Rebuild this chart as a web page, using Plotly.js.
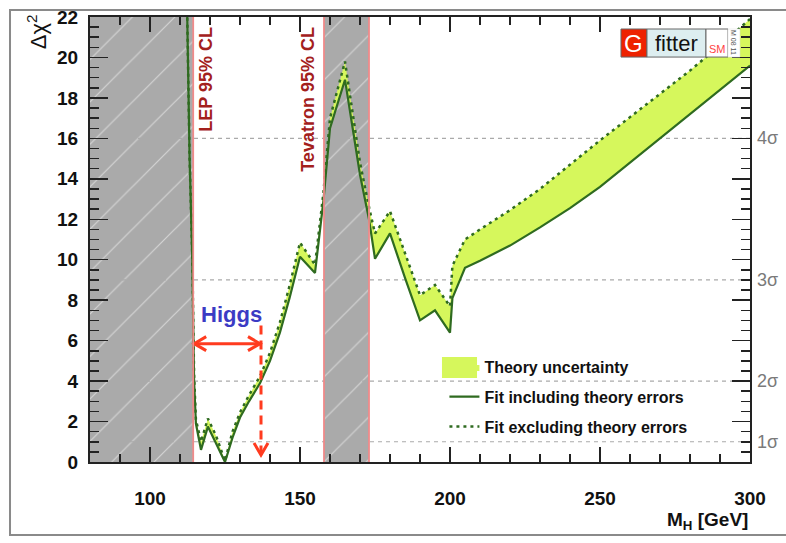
<!DOCTYPE html>
<html><head><meta charset="utf-8">
<script src="https://cdn.plot.ly/plotly-3.0.1.min.js"></script>
<style>html,body{margin:0;padding:0;background:#fff}#chart{width:786px;height:543px}</style>
</head><body><div id="chart"></div>
<script>
// ---- data ----
const mH = [112.3, 113.2, 114.1, 114.7, 115.3, 117, 119.3, 122, 125, 127.5, 130, 133, 136.7, 140, 143.3, 146.5, 150, 155, 157.8, 160, 165, 170, 173, 175, 180, 185, 190, 195, 200, 200.8, 205, 210, 220, 230, 240, 250, 260, 270, 280, 290, 300];
const chi2WithTheory = [23, 15, 10, 4, 1.9, 0.6, 1.75, 0.9, 0, 1.2, 2.2, 3.0, 3.9, 5.0, 6.4, 8.1, 10.15, 9.35, 12.9, 16.5, 18.9, 14.2, 12.0, 10.05, 11.3, 9.1, 7.0, 7.5, 6.4, 8.1, 9.6, 9.95, 10.7, 11.6, 12.55, 13.6, 14.8, 16.0, 17.2, 18.4, 19.6];
const chi2NoTheory = [23, 15, 10.2, 4.3, 2.1, 1.0, 2.15, 1.3, 0.05, 1.5, 2.45, 3.3, 4.25, 5.4, 6.9, 8.7, 10.85, 9.75, 13.3, 17.0, 19.8, 14.8, 12.6, 11.3, 12.4, 10.3, 8.25, 8.75, 7.7, 9.7, 11.0, 11.5, 12.45, 13.5, 14.7, 15.9, 17.05, 18.2, 19.35, 20.6, 21.9];
const lepExcl = [80, 114.4];
const tevExcl = [158, 173];
const higgsRange = [114.4, 137];
const higgsArrowLevel = 5.85;
const higgsDrop = [6.75, 0.35];
const sigmaLevels = [1, 2, 3, 4];
const sigmaLabels = ['1σ', '2σ', '3σ', '4σ'];
const xRange = [80, 300];
const yRange = [0, 22];
const xTickVals = [100, 150, 200, 250, 300];

// ---- styling ----
const GREEN = '#2f6b20', BAND = '#d6f75c', RED = '#f08a8a', ARROW = '#ff3b1f', AX = '#222';
const FONT = 'Liberation Sans, Arial, sans-serif';
const W = 786, H = 543, M = {l: 90, r: 36, t: 17, b: 81};
const xPerPx = (xRange[1] - xRange[0]) / (W - M.l - M.r), yPerPx = (yRange[1] - yRange[0]) / (H - M.t - M.b);

function regionTrace(r) {
  return {x: [r[0], r[1], r[1], r[0], r[0]], y: [yRange[0], yRange[0], yRange[1], yRange[1], yRange[0]],
    mode: 'lines', fill: 'toself', line: {width: 0}, fillcolor: '#aaaaaa',
    fillpattern: {shape: '/', bgcolor: '#aaaaaa', fgcolor: '#d4d4d4', size: 30, solidity: 0.04},
    showlegend: false, hoverinfo: 'skip'};
}
const traces = [regionTrace(lepExcl), regionTrace(tevExcl)];
sigmaLevels.forEach(s => traces.push({x: xRange, y: [s*s, s*s], mode: 'lines',
  line: {color: '#aaaaaa', width: 1.2, dash: '4px,4px'}, showlegend: false, hoverinfo: 'skip'}));
traces.push({x: mH, y: chi2WithTheory, mode: 'lines', line: {width: 0}, showlegend: false, hoverinfo: 'skip'});
traces.push({x: mH, y: chi2NoTheory, mode: 'lines', line: {width: 0}, fill: 'tonexty', fillcolor: BAND,
  name: 'Theory uncertainty', legendgroup: 'a'});
traces.push({x: mH, y: chi2WithTheory, mode: 'lines', line: {color: GREEN, width: 2.2},
  name: 'Fit including theory errors', legendgroup: 'b'});
traces.push({x: mH, y: chi2NoTheory, mode: 'lines', line: {color: GREEN, width: 2.5, dash: '3px,4px'},
  name: 'Fit excluding theory errors', legendgroup: 'c'});

// Higgs range arrows
const hx0 = higgsRange[0], hx1 = higgsRange[1], hy = higgsArrowLevel;
const ax = 13 * xPerPx, ay = 7 * yPerPx;
traces.push({x: [hx0, hx1, null, hx0 + ax, hx0 + xPerPx, hx0 + ax, null, hx1 - ax, hx1 - xPerPx, hx1 - ax],
  y: [hy, hy, null, hy + ay, hy, hy - ay, null, hy + ay, hy, hy - ay],
  mode: 'lines', line: {color: ARROW, width: 3}, showlegend: false, hoverinfo: 'skip'});
traces.push({x: [hx1, hx1], y: higgsDrop, mode: 'lines', line: {color: ARROW, width: 3, dash: '9px,6px'},
  showlegend: false, hoverinfo: 'skip'});
traces.push({x: [hx1 - 7 * xPerPx, hx1, hx1 + 7 * xPerPx],
  y: [higgsDrop[1] + 12 * yPerPx, higgsDrop[1], higgsDrop[1] + 12 * yPerPx],
  mode: 'lines', line: {color: ARROW, width: 3}, showlegend: false, hoverinfo: 'skip'});

const baseShapes = [];
[lepExcl[1], tevExcl[0], tevExcl[1]].forEach(v => baseShapes.push({type: 'line', xref: 'x', yref: 'paper',
  x0: v, x1: v, y0: 0, y1: 1, line: {color: RED, width: 1.8}, layer: 'above'}));
baseShapes.push({type: 'rect', xref: 'paper', yref: 'paper', x0: -0.1212, x1: 1.12, y0: -0.164, y1: 1.0157,
  line: {color: '#8a8a8a', width: 2}, fillcolor: 'rgba(0,0,0,0)'});

const extraShapes = [
  {type: 'rect', xref: 'paper', yref: 'paper', x0: 0.5333, x1: 0.5864, y0: 0.1888, y1: 0.236,
   line: {width: 0}, fillcolor: BAND},
  {type: 'rect', xref: 'paper', yref: 'paper', x0: 0.8045, x1: 0.8439, y0: 0.910, y1: 0.973,
   line: {color: '#666', width: 1}, fillcolor: '#ee2200'},
  {type: 'rect', xref: 'paper', yref: 'paper', x0: 0.8439, x1: 0.9333, y0: 0.910, y1: 0.973,
   line: {color: '#666', width: 1}, fillcolor: '#ddeef0'},
  {type: 'rect', xref: 'paper', yref: 'paper', x0: 0.9333, x1: 0.9667, y0: 0.910, y1: 0.973,
   line: {color: '#666', width: 1}, fillcolor: '#ffffff'},
  {type: 'rect', xref: 'paper', yref: 'paper', x0: 0.9667, x1: 0.9848, y0: 0.910, y1: 0.973,
   line: {color: '#ddd', width: 0.5}, fillcolor: '#ffffff'}
];

const annotations = [
  {xref: 'paper', yref: 'paper', x: -0.08, y: 1.01, xanchor: 'center', yanchor: 'top', textangle: -90,
   text: 'Δχ<sup>2</sup>', showarrow: false, font: {family: FONT, size: 22, color: '#111'}},
  {xref: 'paper', yref: 'paper', x: 1.0, y: -0.133, xanchor: 'right', yanchor: 'middle',
   text: '<b>M<sub>H</sub> [GeV]</b>', showarrow: false, font: {family: FONT, size: 19, color: '#111'}},
  {xref: 'x', yref: 'y', x: 118.4, y: 21.6, xanchor: 'center', yanchor: 'top', textangle: -90,
   text: '<b>LEP 95% CL</b>', showarrow: false, font: {family: FONT, size: 18, color: '#a3201c'}},
  {xref: 'x', yref: 'y', x: 152.4, y: 21.6, xanchor: 'center', yanchor: 'top', textangle: -90,
   text: '<b>Tevatron 95% CL</b>', showarrow: false, font: {family: FONT, size: 18, color: '#a3201c'}},
  {xref: 'x', yref: 'y', x: 127, y: 7.3, xanchor: 'center', yanchor: 'middle',
   text: '<b>Higgs</b>', showarrow: false, font: {family: FONT, size: 22, color: '#3b3bc4'}},
  {xref: 'paper', yref: 'paper', x: 0.8242, y: 0.9415, xanchor: 'center', yanchor: 'middle',
   text: 'G', showarrow: false, font: {family: FONT, size: 24, color: '#ffffff'}},
  {xref: 'paper', yref: 'paper', x: 0.8886, y: 0.9415, xanchor: 'center', yanchor: 'middle',
   text: 'fitter', showarrow: false, font: {family: FONT, size: 22, color: '#111'}},
  {xref: 'paper', yref: 'paper', x: 0.95, y: 0.928, xanchor: 'center', yanchor: 'middle',
   text: 'SM', showarrow: false, font: {family: FONT, size: 11, color: '#ff4444'}},
  {xref: 'paper', yref: 'paper', x: 0.9757, y: 0.9415, xanchor: 'center', yanchor: 'middle', textangle: 90,
   text: 'M 08 11', showarrow: false, font: {family: FONT, size: 7, color: '#555'}}
];
sigmaLevels.forEach((s, i) => annotations.push({xref: 'paper', yref: 'y', x: 1.008, y: s*s,
  xanchor: 'left', yanchor: 'middle', text: sigmaLabels[i], showarrow: false,
  font: {family: FONT, size: 18, color: '#7a7a7a'}}));

const axisBase = {ticks: 'inside', tickwidth: 1.5, tickcolor: AX, showline: true, linecolor: AX, linewidth: 2,
  mirror: 'ticks', showgrid: false, zeroline: false, tickfont: {family: FONT, size: 19, color: '#111', weight: 'bold'}};
const layout = {
  width: W, height: H, margin: M,
  paper_bgcolor: '#ffffff', plot_bgcolor: '#ffffff', showlegend: true,
  legend: {x: 0.537, y: 0.2517, xanchor: 'left', yanchor: 'top', bgcolor: 'rgba(0,0,0,0)',
    font: {family: FONT, size: 16, color: '#111', weight: 'bold'}, tracegroupgap: 6},
  xaxis: Object.assign({}, axisBase, {range: xRange, tickvals: xTickVals, ticklen: 15, ticklabelstandoff: 18,
    minor: {dtick: 10, ticks: 'inside', ticklen: 8, tickcolor: AX, tickwidth: 1.5}}),
  yaxis: Object.assign({}, axisBase, {range: yRange, dtick: 2, ticklen: 18, ticklabelstandoff: 6,
    minor: {dtick: 0.5, ticks: 'inside', ticklen: 9, tickcolor: AX, tickwidth: 1.5}}),
  shapes: baseShapes
};
const config = {displayModeBar: false, staticPlot: true};
const gd = document.getElementById('chart');

Plotly.newPlot(gd, traces, layout, config).then(() => {
  const upd = {};
  extraShapes.forEach((s, i) => { upd['shapes[' + (baseShapes.length + i) + ']'] = s; });
  annotations.forEach((a, i) => { upd['annotations[' + i + ']'] = a; });
  return Plotly.relayout(gd, upd);
}).then(() => {
  if (document.querySelectorAll('path.xtick').length === 0) {
    return Plotly.relayout(gd, {'xaxis.ticklen': 15, 'yaxis.ticklen': 18});
  }
}).catch(() => {
  const full = Object.assign({}, layout, {shapes: baseShapes.concat(extraShapes), annotations: annotations});
  return Plotly.react(gd, traces, full, config);
});
</script></body></html>
